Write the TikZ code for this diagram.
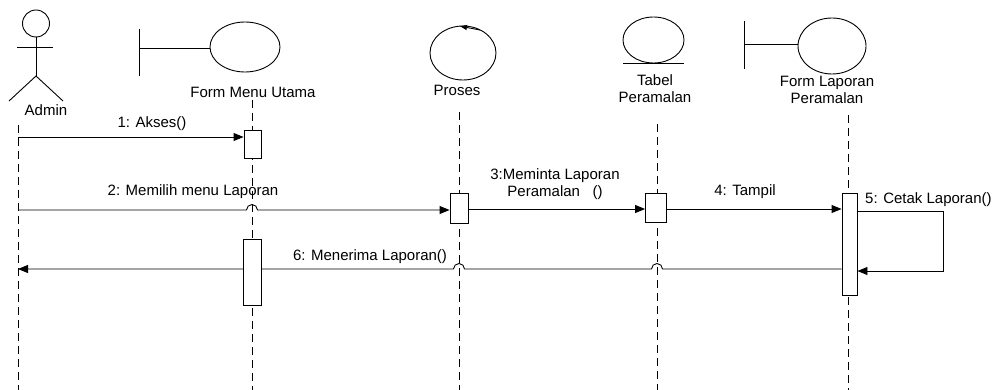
\documentclass[tikz,border=0pt]{standalone}
\usepackage{fontspec}
\setmainfont{Liberation Sans}
\usetikzlibrary{arrows.meta,calc,backgrounds}
\tikzset{
	obj/.style={line width=0.9pt},
	lifeline/.style={line width=0.9pt, dash pattern=on 8pt off 5pt},
	actbox/.style={draw, fill=white, line width=0.9pt, inner sep=0pt, anchor=north},
	msg/.style={line width=0.9pt, -{Triangle[length=10pt,width=8pt]}},
	lbl/.style={font=\fontsize{15}{17}\selectfont, inner sep=0pt, align=center}
}

\begin{document}
\begin{tikzpicture}[x=1pt,y=-1pt]
				\useasboundingbox (0,0) rectangle (998,390);
				
				\draw[obj] (36,23.5) circle (13.5);
				\draw[obj] (36,37) -- (36,76);
				\draw[obj] (17,47) -- (53,47);
				\draw[obj] (9,101) -- (36,76) -- (63,101);
				\node[lbl] (adminlbl) at (46,110) {Admin};
				
				\draw[obj] (139,29) -- (139,76);
				\draw[obj] (139,48) -- (210,48);
				\draw[obj] (245,47) ellipse [x radius=35, y radius=25];
				\node[lbl] (fmulbl) at (253,92) {Form Menu Utama};
				
				\draw[obj] (463,53) ellipse [x radius=33, y radius=27];
				\draw[obj, -{Triangle[length=7pt,width=5pt]}] (480,30) -- (460,26.2);
				\node[lbl] (proseslbl) at (457,90) {Proses};
				
				\draw[obj] (653.5,40) ellipse [x radius=30.5, y radius=23];
				\draw[obj] (623,63) -- (684,63);
				\node[lbl] (tabellbl) at (655,88.5) {Tabel\\Peramalan};
				
				\draw[obj] (744,21) -- (744,69);
				\draw[obj] (744,44) -- (798,44);
				\draw[obj] (832,46) ellipse [x radius=34, y radius=28];
				\node[lbl] (fllbl) at (827,90) {Form Laporan\\Peramalan};
				
				\node[actbox, minimum width=17pt, minimum height=28pt] (fmuact1) at (252.5,130) {};
				\node[actbox, minimum width=18pt, minimum height=66pt] (fmuact2) at (252,239) {};
				\node[actbox, minimum width=18pt, minimum height=30pt] (prosesact) at (459,193) {};
				\node[actbox, minimum width=21pt, minimum height=29pt] (tabelact) at (656,193) {};
				\node[actbox, minimum width=15pt, minimum height=102pt] (flact) at (849.5,193) {};
				\coordinate (loop5) at (943,241);
				
				\begin{scope}[on background layer]
					\foreach \n/\x/\t in {admin/18/125, fmu/252/100, proses/459/112, tabel/657/124, fl/848/115}
					{
						\coordinate (top\n) at (\x,\t);
						\coordinate (bot\n) at (\x,390);
						\draw[lifeline] (top\n) -- (bot\n);
					}
					
					\draw[msg] (topadmin |- 0,137) -- (fmuact1.west |- 0,137);
					\draw[msg] (topadmin |- 0,210) -- ($(topfmu |- 0,210)+(-5.5,0)$) arc (180:360:5.5) -- (prosesact.west |- 0,210);
					\draw[msg] (prosesact.east |- 0,209) -- (tabelact.west |- 0,209);
					\draw[msg] (tabelact.east |- 0,209) -- (flact.west |- 0,209);
					\draw[msg] (flact.east |- 0,211) -| (loop5) |- (flact.east |- 0,271);
					\draw[msg] (flact.west |- 0,269) -- ($(toptabel |- 0,269)+(5.5,0)$) arc (0:-180:5.5) -- ($(topproses |- 0,269)+(5.5,0)$) arc (0:-180:5.5) -- (topadmin |- 0,269);
				\end{scope}
				
				\node[lbl] (m1) at (152,124) {1: Akses()};
				\node[lbl] (m2) at (193,192) {2: Memilih menu Laporan};
				\node[lbl] (m3) at (555,184.5) {3:Meminta Laporan\\Peramalan\ \ \ ()};
				\node[lbl] (m4) at (745,192) {4: Tampil};
				\node[lbl, anchor=west] (m5) at (865,200) {5: Cetak Laporan()};
				\node[lbl] (m6) at (370,257) {6: Menerima Laporan()};
			\end{tikzpicture}
\end{document}
